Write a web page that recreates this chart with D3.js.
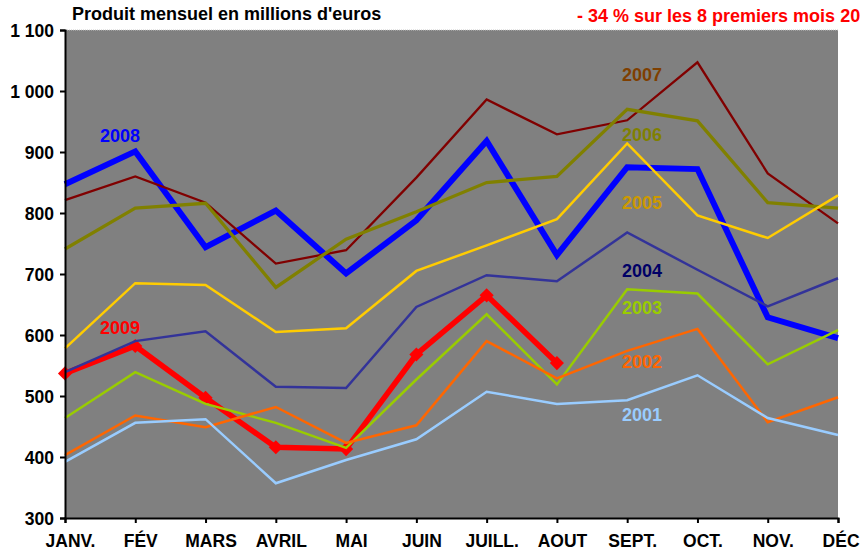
<!DOCTYPE html>
<html>
<head>
<meta charset="utf-8">
<script src="https://cdn.jsdelivr.net/npm/d3@7"></script>
<style>
  body { margin: 0; background: #fff; }
  svg { display: block; font-family: "Liberation Sans", Arial, sans-serif; font-weight: bold; }
</style>
</head>
<body>
<div id="chart"></div>
<script>
// mois et valeurs (millions d'euros)
var mois = ["JANV.", "FÉV", "MARS", "AVRIL", "MAI", "JUIN", "JUILL.", "AOUT", "SEPT.", "OCT.", "NOV.", "DÉC."];
var yTicks = [300, 400, 500, 600, 700, 800, 900, 1000, 1100];

var v2001 = [392, 456, 462, 357, 395, 429, 507, 487, 493, 534, 464, 436];
var v2002 = [403, 468, 449, 482, 423, 452, 590, 529, 574, 610, 457, 498];
var v2003 = [464, 539, 487, 456, 415, 527, 634, 519, 675, 668, 552, 608];
var v2004 = [539, 590, 606, 515, 513, 646, 698, 688, 768, 707, 647, 693];
var v2005 = [578, 685, 682, 605, 611, 705, 747, 790, 914, 796, 759, 829];
var v2006 = [741, 808, 816, 678, 757, 802, 850, 860, 970, 951, 817, 808];
var v2007 = [821, 860, 817, 717, 739, 858, 986, 929, 952, 1047, 865, 783];
var v2008 = [847, 901, 744, 804, 701, 788, 918, 731, 875, 872, 629, 595];
var v2009 = [537, 582, 497, 416, 413, 568, 665, 554];

// series : ordre de dessin (2009 en dessous)
var series = [
  {annee: "2009", valeurs: v2009, couleur: "#ff0000", texte: "#ff0000", epaisseur: 5.5, marque: true, lx: 100, ly: 334},
  {annee: "2008", valeurs: v2008, couleur: "#0000ff", texte: "#0000ff", epaisseur: 6, lx: 100, ly: 142},
  {annee: "2007", valeurs: v2007, couleur: "#800000", texte: "#7f3f00", epaisseur: 2.3, lx: 622, ly: 81},
  {annee: "2006", valeurs: v2006, couleur: "#808000", texte: "#808000", epaisseur: 3.3, lx: 622, ly: 141},
  {annee: "2005", valeurs: v2005, couleur: "#ffcc00", texte: "#cc9900", epaisseur: 2.5, lx: 622, ly: 209},
  {annee: "2004", valeurs: v2004, couleur: "#333399", texte: "#000066", epaisseur: 2.5, lx: 622, ly: 277},
  {annee: "2003", valeurs: v2003, couleur: "#99cc00", texte: "#99cc00", epaisseur: 2.5, lx: 622, ly: 314},
  {annee: "2002", valeurs: v2002, couleur: "#ff6600", texte: "#ff6600", epaisseur: 2.5, lx: 622, ly: 368},
  {annee: "2001", valeurs: v2001, couleur: "#99ccff", texte: "#99ccff", epaisseur: 2.5, lx: 622, ly: 421}
];

var chartWidth = 860,
    chartHeight = 555,
    plot = {left: 65, right: 838, top: 30, bottom: 518};

var svg = d3.select("#chart")
            .append("svg")
            .attr("width", chartWidth)
            .attr("height", chartHeight);

var x = d3.scalePoint()
          .domain(mois)
          .range([plot.left, plot.right]);

var y = d3.scaleLinear()
          .domain([300, 1100])
          .range([plot.bottom, plot.top]);

// fond gris
svg.append("rect")
   .attr("x", plot.left)
   .attr("y", plot.top)
   .attr("width", plot.right - plot.left)
   .attr("height", plot.bottom - plot.top)
   .attr("fill", "#808080");

svg.append("line")
   .attr("x1", plot.left).attr("x2", plot.right)
   .attr("y1", plot.top).attr("y2", plot.top)
   .attr("stroke", "#c8c8c8")
   .attr("stroke-width", 1)
   .attr("stroke-dasharray", "1,1");

// lignes
var line = d3.line()
             .x((d, i) => x(mois[i]))
             .y(d => y(d));

series.forEach(function(s) {
    svg.append("path")
       .datum(s.valeurs)
       .attr("d", line)
       .attr("fill", "none")
       .attr("stroke", s.couleur)
       .attr("stroke-width", s.epaisseur)
       .attr("stroke-linejoin", "miter");

    if (s.marque) { // losanges
        svg.selectAll(".m" + s.annee)
           .data(s.valeurs)
           .enter().append("path")
           .attr("d", d3.symbol(d3.symbolSquare, 100))
           .attr("transform", (d, i) => "translate(" + x(mois[i]) + "," + y(d) + ") rotate(45)")
           .attr("fill", s.couleur);
    }
});

// étiquettes des années
svg.selectAll(".annee")
   .data(series)
   .enter().append("text")
   .attr("x", d => d.lx)
   .attr("y", d => d.ly)
   .attr("fill", d => d.texte)
   .style("font-size", "18px")
   .text(d => d.annee);

// axes
var yAxis = d3.axisLeft(y)
              .tickValues(yTicks)
              .tickSize(5)
              .tickPadding(6)
              .tickFormat(d => d3.format(",")(d).replace(",", " "));

var xAxis = d3.axisBottom(x)
              .tickSize(5)
              .tickPadding(12);

var gy = svg.append("g")
            .attr("transform", "translate(" + plot.left + ",0)")
            .call(yAxis);

var gx = svg.append("g")
            .attr("transform", "translate(0," + plot.bottom + ")")
            .call(xAxis);

[gx, gy].forEach(function(g) {
    g.select(".domain").attr("stroke", "#000").attr("stroke-width", 2);
    g.selectAll(".tick line").attr("stroke", "#000").attr("stroke-width", 2);
    g.selectAll(".tick text")
     .attr("fill", "#000")
     .style("font-size", "17.5px")
     .style("font-family", "'Liberation Sans', Arial, sans-serif")
     .style("font-weight", "bold");
});

gx.selectAll(".tick text").attr("dx", 5);
gy.selectAll(".tick text").attr("dy", "0.35em");

// titres
svg.append("text")
   .attr("x", 72)
   .attr("y", 20)
   .attr("fill", "#000")
   .style("font-size", "18px")
   .text("Produit mensuel en millions d'euros");

svg.append("text")
   .attr("x", 577)
   .attr("y", 22)
   .attr("fill", "#ff0000")
   .style("font-size", "18px")
   .text("- 34 % sur les 8 premiers mois 2009");
</script>
</body>
</html>
